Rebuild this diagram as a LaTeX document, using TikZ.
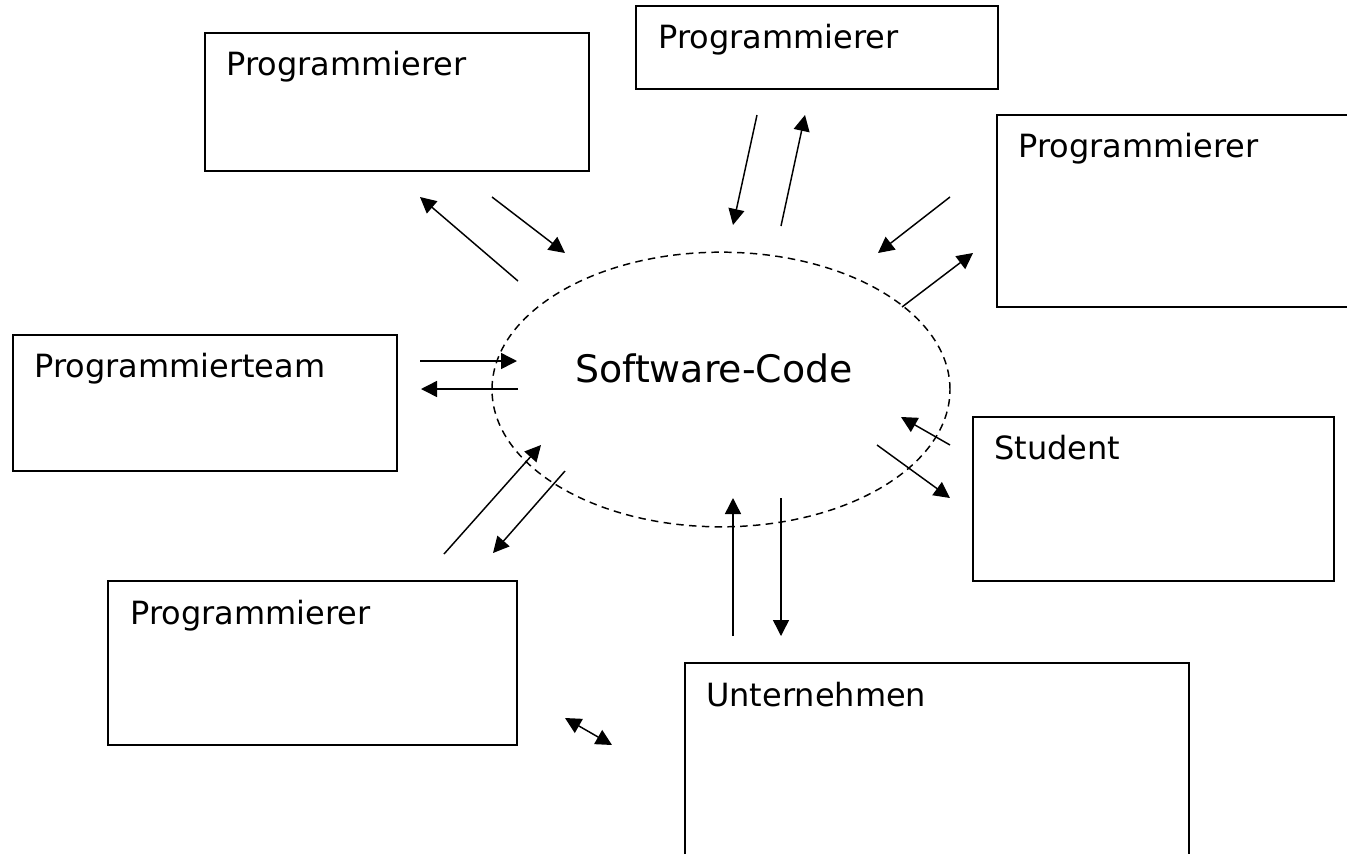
\documentclass[tikz,border=0pt]{standalone}
\usepackage{fontspec}
\setmainfont{DejaVu Sans}
\usetikzlibrary{arrows.meta,shapes.geometric}
\tikzset{
  box/.style={draw=black,line width=1.1pt,fill=white},
  lbl/.style={anchor=base west,inner sep=0pt,font=\fontsize{24}{28}\selectfont},
  conn/.style={line width=1.1pt,-{Triangle[length=12pt,width=12pt]}},
  conb/.style={line width=1.1pt,{Triangle[length=12pt,width=12pt]}-{Triangle[length=12pt,width=12pt]}},
  cloud/.style={draw=black,line width=1.1pt,dash pattern=on 5.6pt off 4pt,ellipse,inner sep=0pt,minimum width=343.5pt,minimum height=206pt}
}
\begin{document}
\begin{tikzpicture}[x=0.75pt,y=-0.75pt]
\useasboundingbox (0,0) rectangle (1347,854);
% boxes
\draw[box] (205,33) rectangle (589,171);
\draw[box] (636,6) rectangle (998,89);
\draw[box] (1347,115) -- (997,115) -- (997,307) -- (1347,307);
\draw[box] (13,335) rectangle (397,471);
\draw[box] (973,417) rectangle (1334,581);
\draw[box] (108,581) rectangle (517,745);
\draw[box] (685,854) -- (685,663) -- (1189,663) -- (1189,854);
\node[lbl] (ta) at (226,75) {Programmierer};
\node[lbl] (tb) at (658,48) {Programmierer};
\node[lbl] (tc) at (1018,157) {Programmierer};
\node[lbl] (td) at (34,377) {Programmierteam};
\node[lbl] (te) at (994,459) {Student};
\node[lbl] (tf) at (130,624) {Programmierer};
\node[lbl] (tg) at (706,706) {Unternehmen};
% ellipse
\node[cloud] (sw) at (721,389.5) {};
\node[anchor=base,inner sep=0pt,font=\fontsize{28.4}{32}\selectfont] (code) at (714,382) {Software-Code};
% connectors
\coordinate (a1) at (518,281); \coordinate (a2) at (420,197);
\coordinate (a3) at (492,197); \coordinate (a4) at (565,253);
\coordinate (b1) at (757,115); \coordinate (b2) at (733,225);
\coordinate (b3) at (781,226); \coordinate (b4) at (805,115);
\coordinate (c1) at (950,197); \coordinate (c2) at (878,253);
\coordinate (c3) at (902,307); \coordinate (c4) at (973,253);
\coordinate (d1) at (420,361); \coordinate (d2) at (517,361);
\coordinate (d3) at (518,389); \coordinate (d4) at (421,389);
\coordinate (e1) at (950,445); \coordinate (e2) at (901,417);
\coordinate (e3) at (877,445); \coordinate (e4) at (950,498);
\coordinate (f1) at (444,554); \coordinate (f2) at (541,445);
\coordinate (f3) at (565,471); \coordinate (f4) at (493,553);
\coordinate (g1) at (733,636); \coordinate (g2) at (733,498);
\coordinate (g3) at (781,498); \coordinate (g4) at (781,636);
\coordinate (h1) at (565,718); \coordinate (h2) at (612,745);
\draw[conn] (a1) -- (a2);
\draw[conn] (a3) -- (a4);
\draw[conn] (b1) -- (b2);
\draw[conn] (b3) -- (b4);
\draw[conn] (c1) -- (c2);
\draw[conn] (c3) -- (c4);
\draw[conn] (d1) -- (d2);
\draw[conn] (d3) -- (d4);
\draw[conn] (e1) -- (e2);
\draw[conn] (e3) -- (e4);
\draw[conn] (f1) -- (f2);
\draw[conn] (f3) -- (f4);
\draw[conn] (g1) -- (g2);
\draw[conn] (g3) -- (g4);
\draw[conb] (h1) -- (h2);
\end{tikzpicture}
\end{document}
